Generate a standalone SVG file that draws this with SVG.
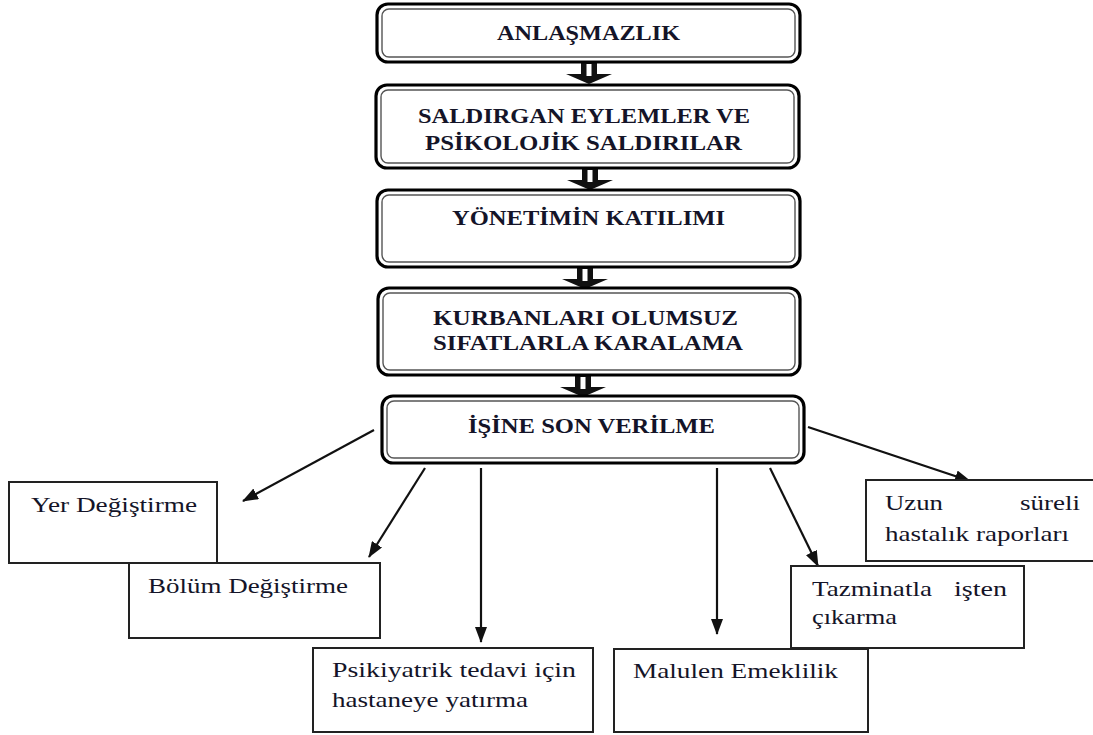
<svg xmlns="http://www.w3.org/2000/svg" width="1093" height="735" viewBox="0 0 1093 735">
<style>
.outer{fill:#fff;stroke:#000;stroke-width:3.2}
.inner{fill:none;stroke:#555;stroke-width:1.4}
.box{fill:#fff;stroke:#222;stroke-width:2}
.ln{stroke:#111;stroke-width:2.2;fill:none;marker-end:url(#ah)}
.tb{font-family:'Liberation Serif','DejaVu Serif',serif;font-weight:bold;font-size:21px;fill:#141428}
.t{font-family:'Liberation Serif','DejaVu Serif',serif;font-size:22px;fill:#141428}
</style>
<defs>
<marker id="ah" markerUnits="userSpaceOnUse" markerWidth="16" markerHeight="12" refX="15" refY="6" orient="auto">
<path d="M0,0 L16,6 L0,12 Z" fill="#111"/>
</marker>
<g id="blk">
<path d="M-8,0 H8 V12 H23 L0,22 L-23,12 H-8 Z" fill="#111"/>
<rect x="-2.5" y="2" width="5" height="12" fill="#fff"/>
</g>
</defs>
<rect width="1093" height="735" fill="#fff"/>

<g id="connectors">
<use href="#blk" x="589" y="62"/>
<use href="#blk" x="590" y="168"/>
<use href="#blk" x="585" y="267"/>
<use href="#blk" x="583" y="375"/>
<line class="ln" x1="374" y1="430" x2="243" y2="501"/>
<line class="ln" x1="425" y1="468" x2="369" y2="557"/>
<line class="ln" x1="481" y1="468" x2="481" y2="642"/>
<line class="ln" x1="717" y1="468" x2="717" y2="634"/>
<line class="ln" x1="770" y1="468" x2="818" y2="566"/>
<line class="ln" x1="808" y1="427" x2="970" y2="481"/>
</g>

<g id="n1">
<rect class="outer" x="377" y="4" width="423" height="58" rx="11"/>
<rect class="inner" x="382" y="9" width="413" height="48" rx="7"/>
<text class="tb" x="497" y="40" textLength="183" lengthAdjust="spacingAndGlyphs">ANLAŞMAZLIK</text>
</g>
<g id="n2">
<rect class="outer" x="376" y="85" width="423" height="83" rx="11"/>
<rect class="inner" x="381" y="90" width="413" height="73" rx="7"/>
<text class="tb" x="418" y="123" textLength="332" lengthAdjust="spacingAndGlyphs">SALDIRGAN EYLEMLER VE</text>
<text class="tb" x="425" y="150" textLength="317" lengthAdjust="spacingAndGlyphs">PSİKOLOJİK SALDIRILAR</text>
</g>
<g id="n3">
<rect class="outer" x="377" y="190" width="423" height="77" rx="11"/>
<rect class="inner" x="382" y="195" width="413" height="67" rx="7"/>
<text class="tb" x="452" y="225" textLength="273" lengthAdjust="spacingAndGlyphs">YÖNETİMİN KATILIMI</text>
</g>
<g id="n4">
<rect class="outer" x="378" y="288" width="422" height="87" rx="11"/>
<rect class="inner" x="383" y="293" width="412" height="77" rx="7"/>
<text class="tb" x="433" y="325" textLength="305" lengthAdjust="spacingAndGlyphs">KURBANLARI OLUMSUZ</text>
<text class="tb" x="433" y="350" textLength="310" lengthAdjust="spacingAndGlyphs">SIFATLARLA KARALAMA</text>
</g>
<g id="n5">
<rect class="outer" x="382" y="396" width="422" height="67" rx="11"/>
<rect class="inner" x="387" y="401" width="412" height="57" rx="7"/>
<text class="tb" x="468" y="433" textLength="247" lengthAdjust="spacingAndGlyphs">İŞİNE SON VERİLME</text>
</g>

<g id="n6">
<rect class="box" x="9" y="482" width="208" height="81"/>
<text class="t" x="31" y="512" textLength="166" lengthAdjust="spacingAndGlyphs">Yer Değiştirme</text>
</g>
<g id="n7">
<rect class="box" x="129" y="563" width="251" height="75"/>
<text class="t" x="148" y="593" textLength="200" lengthAdjust="spacingAndGlyphs">Bölüm Değiştirme</text>
</g>
<g id="n8">
<rect class="box" x="313" y="648" width="280" height="84"/>
<text class="t" x="332" y="677" textLength="244" lengthAdjust="spacingAndGlyphs">Psikiyatrik tedavi için</text>
<text class="t" x="332" y="707" textLength="196" lengthAdjust="spacingAndGlyphs">hastaneye yatırma</text>
</g>
<g id="n9">
<rect class="box" x="614" y="649" width="254" height="83"/>
<text class="t" x="633" y="678" textLength="205" lengthAdjust="spacingAndGlyphs">Malulen Emeklilik</text>
</g>
<g id="n10">
<rect class="box" x="791" y="566" width="233" height="82"/>
<text class="t" x="812" y="596" textLength="120" lengthAdjust="spacingAndGlyphs">Tazminatla</text>
<text class="t" x="954" y="596" textLength="53" lengthAdjust="spacingAndGlyphs">işten</text>
<text class="t" x="812" y="624" textLength="85" lengthAdjust="spacingAndGlyphs">çıkarma</text>
</g>
<g id="n11">
<rect class="box" x="866" y="480" width="228" height="81"/>
<text class="t" x="885" y="510" textLength="58" lengthAdjust="spacingAndGlyphs">Uzun</text>
<text class="t" x="1020" y="510" textLength="60" lengthAdjust="spacingAndGlyphs">süreli</text>
<text class="t" x="885" y="541" textLength="184" lengthAdjust="spacingAndGlyphs">hastalık raporları</text>
</g>
</svg>
